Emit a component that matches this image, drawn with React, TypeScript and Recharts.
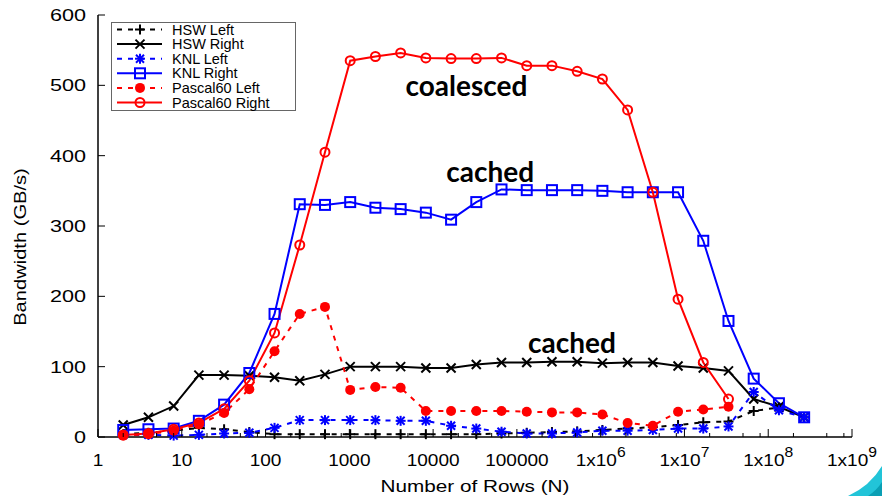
import React from 'react';
import { LineChart, Line, XAxis, YAxis, Legend, ReferenceDot, Label } from 'recharts';

// ---------- data ----------
const rowsN = [
  2, 4, 8, 16, 32, 64, 128, 256, 512, 1024, 2048, 4096, 8192, 16384, 32768, 65536,
  131072, 262144, 524288, 1048576, 2097152, 4194304, 8388608, 16777216, 33554432,
  67108864, 134217728, 268435456,
];
const hswLeft = [4, 6, 9, 13, 11, 7, 4, 4, 4, 4, 4, 4, 4, 4, 4, 5, 6, 7, 8, 10, 12, 14, 17, 21, 22, 37, 42, 28];
const hswRight = [17, 28, 44, 88, 88, 87, 85, 80, 89, 100, 100, 100, 98, 98, 103, 106, 106, 107, 107, 105, 106, 106, 101, 98, 94, 54, 43, 28];
const knlLeft = [3, 3, 2, 3, 5, 6, 13, 24, 24, 24, 24, 23, 23, 16, 12, 7.5, 5, 5, 6.5, 9, 9, 10, 12, 12, 15, 64, 38, 28];
const knlRight = [10, 11, 12, 23, 46, 91, 175, 331, 330, 334, 326, 324, 319, 309, 334, 352, 351, 351, 351, 350, 348, 348, 348, 279, 165, 83, 48, 28];
const pascalLeft = [2, 4, 9, 18, 34, 68, 122, 175, 185, 67, 71, 70, 37, 37, 37, 37, 36, 35, 35, 32, 20, 16, 36, 39, 43];
const pascalRight = [3, 5, 11, 20, 40, 80, 148, 273, 405, 535, 541, 546, 539, 538, 538, 539, 528, 528, 520, 509, 465, 348, 196, 106, 54];

const xMajorTicks = [1, 10, 100, 1000, 10000, 100000, 1000000, 10000000, 100000000, 1000000000];
const xMinorMultipliers = [2, 5, 8];
const yTicks = [0, 100, 200, 300, 400, 500, 600];

const annotations = [
  { text: 'coalesced', n: 25000, v: 497 },
  { text: 'cached', n: 48000, v: 375 },
  { text: 'cached', n: 455000, v: 132 },
];

type MarkerType = 'plus' | 'cross' | 'star' | 'square' | 'dot' | 'circle';
const series: { key: string; name: string; color: string; dash?: string; marker: MarkerType; values: number[] }[] = [
  { key: 'hswLeft', name: 'HSW Left', color: '#000000', dash: '5 6', marker: 'plus', values: hswLeft },
  { key: 'hswRight', name: 'HSW Right', color: '#000000', marker: 'cross', values: hswRight },
  { key: 'knlLeft', name: 'KNL Left', color: '#0000ff', dash: '5 6', marker: 'star', values: knlLeft },
  { key: 'knlRight', name: 'KNL Right', color: '#0000ff', marker: 'square', values: knlRight },
  { key: 'pascalLeft', name: 'Pascal60 Left', color: '#ff0000', dash: '5 6', marker: 'dot', values: pascalLeft },
  { key: 'pascalRight', name: 'Pascal60 Right', color: '#ff0000', marker: 'circle', values: pascalRight },
];

const data = rowsN.map((n, i) => {
  const row: Record<string, number | null> = { n };
  series.forEach((s) => {
    row[s.key] = s.values[i] !== undefined ? s.values[i] : null;
  });
  return row;
});

const xTicks: number[] = [];
xMajorTicks.forEach((t, i) => {
  xTicks.push(t);
  if (i < xMajorTicks.length - 1) xMinorMultipliers.forEach((m) => xTicks.push(t * m));
});

// ---------- styling ----------
const FONT = '"Liberation Sans", Arial, Helvetica, sans-serif';
const STRETCH = 1.22;

function Marker({ type, cx, cy, color }: { type: MarkerType; cx: number; cy: number; color: string }) {
  const sw = 2;
  switch (type) {
    case 'plus':
      return (
        <g stroke={color} strokeWidth={sw}>
          <line x1={cx - 5} x2={cx + 5} y1={cy} y2={cy} />
          <line x1={cx} x2={cx} y1={cy - 5} y2={cy + 5} />
        </g>
      );
    case 'cross':
      return (
        <g stroke={color} strokeWidth={sw}>
          <line x1={cx - 4.5} x2={cx + 4.5} y1={cy - 4.5} y2={cy + 4.5} />
          <line x1={cx - 4.5} x2={cx + 4.5} y1={cy + 4.5} y2={cy - 4.5} />
        </g>
      );
    case 'star':
      return (
        <g stroke={color} strokeWidth={sw}>
          <line x1={cx - 5} x2={cx + 5} y1={cy} y2={cy} />
          <line x1={cx} x2={cx} y1={cy - 5} y2={cy + 5} />
          <line x1={cx - 4} x2={cx + 4} y1={cy - 4} y2={cy + 4} />
          <line x1={cx - 4} x2={cx + 4} y1={cy + 4} y2={cy - 4} />
        </g>
      );
    case 'square':
      return <rect x={cx - 5} y={cy - 5} width={10} height={10} fill="none" stroke={color} strokeWidth={sw} />;
    case 'dot':
      return <circle cx={cx} cy={cy} r={5} fill={color} />;
    case 'circle':
    default:
      return <circle cx={cx} cy={cy} r={4.5} fill="none" stroke={color} strokeWidth={sw} />;
  }
}

const isMajor = (v: number) => {
  const lg = Math.log10(v);
  return Math.abs(lg - Math.round(lg)) < 1e-9;
};

const XTickBottom = (props: any) => {
  const { x, y, payload } = props;
  const v = payload.value as number;
  const major = isMajor(v);
  const e = Math.round(Math.log10(v));
  return (
    <g>
      <line x1={x} x2={x} y1={y} y2={y - (major ? 8 : 4)} stroke="#000" strokeWidth={1} />
      {major && (
        <text
          transform={`translate(${x},${y + 29}) scale(1.12,1)`}
          textAnchor="middle"
          fontFamily={FONT}
          fontSize={17}
          fill="#000"
        >
          {e < 6 ? (
            String(v)
          ) : (
            <>
              1x10
              <tspan dy={-9} fontSize={14}>
                {e}
              </tspan>
            </>
          )}
        </text>
      )}
    </g>
  );
};

const XTickTop = (props: any) => {
  const { x, y, payload } = props;
  const major = isMajor(payload.value);
  return <line x1={x} x2={x} y1={y} y2={y + (major ? 8 : 4)} stroke="#000" strokeWidth={1} />;
};

const YTickLeft = (props: any) => {
  const { x, y, payload } = props;
  return (
    <g>
      <line x1={x} x2={x + 7} y1={y} y2={y} stroke="#000" strokeWidth={1} />
      <text
        transform={`translate(${x - 12},${y + 6}) scale(1.27,1)`}
        textAnchor="end"
        fontFamily={FONT}
        fontSize={17}
        fill="#000"
      >
        {payload.value}
      </text>
    </g>
  );
};

const YTickRight = (props: any) => {
  const { x, y } = props;
  return <line x1={x} x2={x - 7} y1={y} y2={y} stroke="#000" strokeWidth={1} />;
};

const XTitle = (props: any) => {
  const vb = props.viewBox || {};
  const cx = vb.x + vb.width / 2;
  const y = vb.y + 55;
  return (
    <text transform={`translate(${cx},${y}) scale(${STRETCH},1)`} textAnchor="middle" fontFamily={FONT} fontSize={17} fill="#000">
      Number of Rows (N)
    </text>
  );
};

const YTitle = () => (
  <text transform={`translate(26,247) rotate(-90) scale(${STRETCH},1)`} textAnchor="middle" fontFamily={FONT} fontSize={16.5} fill="#000">
    Bandwidth (GB/s)
  </text>
);

const LegendBox = () => {
  const rowH = 14.6;
  return (
    <svg width={185} height={89} style={{ display: 'block' }}>
      <rect x={0.5} y={0.5} width={184} height={88} fill="#fff" stroke="#666" strokeWidth={1} />
      {series.map((s, i) => {
        const cy = 7.5 + i * rowH;
        return (
          <g key={s.key}>
            <line x1={6} x2={51} y1={cy} y2={cy} stroke={s.color} strokeWidth={2} strokeDasharray={s.dash} />
            <Marker type={s.marker} cx={29} cy={cy} color={s.color} />
            <text x={61} y={cy + 5} fontFamily={FONT} fontSize={14.5} fill="#000">
              {s.name}
            </text>
          </g>
        );
      })}
    </svg>
  );
};

const makeDot = (s: (typeof series)[number]) => (props: any) => {
  const { cx, cy, value, index } = props;
  if (value === null || value === undefined || cx == null || cy == null) return <g key={`${s.key}-${index}`} />;
  return (
    <g key={`${s.key}-${index}`}>
      <Marker type={s.marker} cx={cx} cy={cy} color={s.color} />
    </g>
  );
};

export default function App() {
  return (
    <div style={{ position: 'absolute', left: 0, top: 0, width: 882, height: 496, background: '#fff' }}>
      <LineChart width={882} height={496} data={data} margin={{ top: 15, right: 30, bottom: 0, left: 0 }}>
        <XAxis
          dataKey="n"
          type="number"
          scale="log"
          domain={[1, 1000000000]}
          allowDataOverflow
          ticks={xTicks}
          interval={0}
          height={59}
          tickSize={0}
          tickMargin={0}
          tickLine={false}
          axisLine={{ stroke: '#000', strokeWidth: 1.5 }}
          tick={<XTickBottom />}
        >
          <Label content={<XTitle />} />
        </XAxis>
        <XAxis
          xAxisId="top"
          orientation="top"
          dataKey="n"
          type="number"
          scale="log"
          domain={[1, 1000000000]}
          allowDataOverflow
          ticks={xTicks}
          interval={0}
          height={0}
          tickSize={0}
          tickMargin={0}
          tickLine={false}
          axisLine={{ stroke: '#000', strokeWidth: 1.5 }}
          tick={<XTickTop />}
        />
        <YAxis
          type="number"
          domain={[0, 600]}
          ticks={yTicks}
          interval={0}
          width={98}
          tickSize={0}
          tickMargin={0}
          tickLine={false}
          axisLine={{ stroke: '#000', strokeWidth: 1.5 }}
          tick={<YTickLeft />}
        >
          <Label content={<YTitle />} />
        </YAxis>
        <YAxis
          yAxisId="right"
          orientation="right"
          type="number"
          domain={[0, 600]}
          ticks={yTicks}
          interval={0}
          width={0}
          tickSize={0}
          tickMargin={0}
          tickLine={false}
          axisLine={{ stroke: '#000', strokeWidth: 1.5 }}
          tick={<YTickRight />}
        />
        <Legend
          layout="vertical"
          align="center"
          verticalAlign="middle"
          content={<LegendBox />}
          wrapperStyle={{ position: 'absolute', left: 111, top: 22, width: 185, height: 89, right: 'auto', bottom: 'auto' }}
        />
        {series.map((s) => (
          <Line
            key={s.key}
            dataKey={s.key}
            name={s.name}
            stroke={s.color}
            strokeWidth={2}
            strokeDasharray={s.dash}
            dot={makeDot(s)}
            activeDot={false}
            isAnimationActive={false}
            connectNulls={false}
          />
        ))}
        {annotations.map((a, i) => (
          <ReferenceDot
            key={`ann-${i}`}
            x={a.n}
            y={a.v}
            r={0}
            ifOverflow="visible"
            shape={(p: any) => (
              <text
                x={p.cx}
                y={p.cy + 9}
                textAnchor="middle"
                fontFamily="Lato, 'Open Sans', sans-serif"
                fontWeight={700}
                fontSize={28}
                fill="#000"
              >
                {a.text}
              </text>
            )}
          />
        ))}
      </LineChart>
      <svg width={882} height={496} style={{ position: 'absolute', left: 0, top: 0, pointerEvents: 'none' }}>
        <path d="M 848 496 Q 870 486 882 466 L 882 496 Z" fill="#22c4d8" />
        <path d="M 868 496 Q 877 490 882 482 L 882 496 Z" fill="#0a9fb4" />
      </svg>
    </div>
  );
}
